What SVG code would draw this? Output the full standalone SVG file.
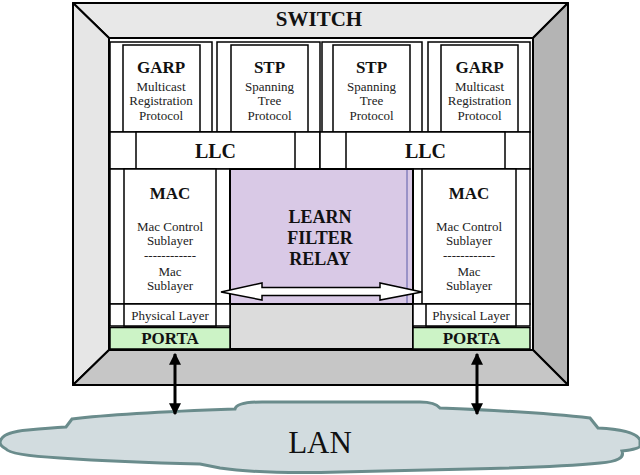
<svg xmlns="http://www.w3.org/2000/svg" width="640" height="475" viewBox="0 0 640 475">
<style>
.bx{fill:#fff;stroke:#000;stroke-width:1.5}
.face{stroke:#000;stroke-width:2;stroke-linejoin:round}
.b{font-family:"Liberation Serif","Times New Roman",serif;font-weight:bold;text-anchor:middle;fill:#111}
.r{font-family:"Liberation Serif","Times New Roman",serif;text-anchor:middle;font-size:13px;fill:#222}
.t17{font-size:17px}
.va{stroke:#000;stroke-width:3;fill:none;marker-start:url(#ah);marker-end:url(#ah)}
</style>
<defs>
<marker id="ah" viewBox="0 0 10 10" refX="9" refY="5" markerWidth="4" markerHeight="4" orient="auto-start-reverse" markerUnits="strokeWidth">
<path d="M0,0 L10,5 L0,10 Z" fill="#000"/>
</marker>
</defs>
<rect width="640" height="475" fill="#fff"/>

<g id="lan">
<path d="M0,442 Q2,432 28,430 Q50,428 66,427 L72,419 Q120,413 235,409 Q237,402 262,402 L420,402 Q435,402 440,408 Q540,412 590,418 L598,428 Q636,430 640,440 L640,446 Q640,449 622,451 Q626,461 600,463 Q560,467 470,469 Q420,470 340,472 Q260,474 220,468 Q210,466 200,464 Q120,462 60,458 Q10,455 6,449 Q0,446 0,442 Z" fill="#d2dcdf" stroke="#6a8c8c" stroke-width="3"/>
<text x="320" y="453" font-family="Liberation Serif,Times New Roman,serif" font-size="31" text-anchor="middle" fill="#111">LAN</text>
</g>

<g id="switch">
<polygon class="face" points="73,3 568,3 533,38 109,38" fill="#e8e8e8"/>
<polygon class="face" points="73,3 109,38 109,350 73,385" fill="#e6e6e6"/>
<polygon class="face" points="568,3 568,385 533,350 533,38" fill="#b4b4b4"/>
<polygon class="face" points="73,385 109,350 533,350 568,385" fill="#c6c6c6"/>
<text class="b" x="319" y="26" font-size="21">SWITCH</text>
<rect x="109" y="38" width="424" height="312" fill="#fff" stroke="#000" stroke-width="2"/>
</g>

<g id="garp-left">
<rect class="bx" x="110" y="42" width="102" height="90"/>
<rect class="bx" x="123" y="45" width="77" height="87"/>
<text class="b t17" x="161" y="73">GARP</text>
<text class="r" x="161" y="90.5">Multicast</text>
<text class="r" x="161" y="104.5">Registration</text>
<text class="r" x="161" y="120">Protocol</text>
</g>
<g id="stp-left">
<rect class="bx" x="217" y="42" width="103" height="90"/>
<rect class="bx" x="231" y="45" width="77" height="87"/>
<text class="b t17" x="269.5" y="73">STP</text>
<text class="r" x="269.5" y="90.5">Spanning</text>
<text class="r" x="269.5" y="104.5">Tree</text>
<text class="r" x="269.5" y="120">Protocol</text>
</g>
<g id="stp-right">
<rect class="bx" x="322" y="42" width="100" height="90"/>
<rect class="bx" x="333" y="45" width="77" height="87"/>
<text class="b t17" x="371.5" y="73">STP</text>
<text class="r" x="371.5" y="90.5">Spanning</text>
<text class="r" x="371.5" y="104.5">Tree</text>
<text class="r" x="371.5" y="120">Protocol</text>
</g>
<g id="garp-right">
<rect class="bx" x="428" y="42" width="102" height="90"/>
<rect class="bx" x="441" y="45" width="77" height="87"/>
<text class="b t17" x="479.5" y="73">GARP</text>
<text class="r" x="479.5" y="90.5">Multicast</text>
<text class="r" x="479.5" y="104.5">Registration</text>
<text class="r" x="479.5" y="120">Protocol</text>
</g>

<g id="llc-left">
<rect class="bx" x="110" y="132" width="210" height="37"/>
<rect class="bx" x="136" y="132" width="159" height="37"/>
<text class="b" x="215.5" y="158" font-size="20">LLC</text>
</g>
<g id="llc-right">
<rect class="bx" x="320" y="132" width="210" height="37"/>
<rect class="bx" x="346" y="132" width="159" height="37"/>
<text class="b" x="425.5" y="158" font-size="20">LLC</text>
</g>

<g id="mac-left">
<rect class="bx" x="110" y="169" width="120" height="135"/>
<rect class="bx" x="124" y="169" width="92" height="135"/>
<text class="b t17" x="170" y="199">MAC</text>
<text class="r" x="170" y="230.5">Mac Control</text>
<text class="r" x="170" y="245">Sublayer</text>
<text class="r" x="170" y="260">------------</text>
<text class="r" x="170" y="276">Mac</text>
<text class="r" x="170" y="290">Sublayer</text>
</g>
<g id="mac-right">
<rect class="bx" x="413" y="169" width="117" height="135"/>
<rect class="bx" x="422" y="169" width="94" height="135"/>
<text class="b t17" x="469" y="199">MAC</text>
<text class="r" x="469" y="230.5">Mac Control</text>
<text class="r" x="469" y="245">Sublayer</text>
<text class="r" x="469" y="260">------------</text>
<text class="r" x="469" y="276">Mac</text>
<text class="r" x="469" y="290">Sublayer</text>
</g>

<g id="relay">
<rect x="230" y="169" width="183" height="135" fill="#d9c9e6" stroke="#000" stroke-width="2"/>
<line x1="407" y1="170" x2="407" y2="303" stroke="#5a5aa8" stroke-width="1"/>
<text class="b" x="320" y="223" font-size="18">LEARN</text>
<text class="b" x="320" y="244" font-size="18">FILTER</text>
<text class="b" x="320" y="265" font-size="18">RELAY</text>
<rect x="230" y="304" width="183" height="45" fill="#dcdcdc" stroke="#000" stroke-width="2"/>
</g>

<g id="phy-left">
<rect class="bx" x="110" y="304" width="120" height="22"/>
<rect class="bx" x="124" y="304" width="92" height="22"/>
<text class="r" x="170" y="320">Physical Layer</text>
</g>
<g id="phy-right">
<rect class="bx" x="413" y="304" width="117" height="22"/>
<rect class="bx" x="426" y="304" width="90" height="22"/>
<text class="r" x="471" y="320">Physical Layer</text>
</g>

<g id="porta-left">
<rect x="110" y="327.5" width="120" height="21.5" fill="#ccf3c6" stroke="#000" stroke-width="1.5"/>
<text class="b t17" x="170" y="344">PORTA</text>
</g>
<g id="porta-right">
<rect x="413" y="327.5" width="117" height="21.5" fill="#ccf3c6" stroke="#000" stroke-width="1.5"/>
<text class="b t17" x="471.5" y="344">PORTA</text>
</g>

<g id="connectors">
<polygon points="221,292 262,283 262,287.5 380,287.5 380,283 422,292 380,300 380,295.5 262,295.5 262,300" fill="#fff" stroke="#000" stroke-width="1.5" stroke-linejoin="miter"/>
<line class="va" x1="175" y1="354" x2="175" y2="414"/>
<line class="va" x1="477" y1="354" x2="477" y2="414"/>
</g>
</svg>
